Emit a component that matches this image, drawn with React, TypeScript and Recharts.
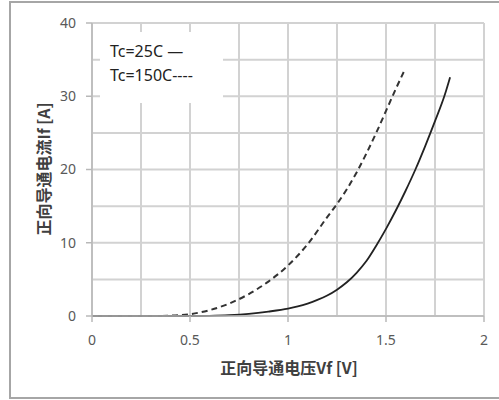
import React from 'react';
import { LineChart, Line, XAxis, YAxis, CartesianGrid } from 'recharts';

// Tc = 25C (solid)
const vf25 = [0, 0.5, 0.6, 0.7, 0.8, 0.9, 1.0, 1.05, 1.1, 1.15, 1.2, 1.25, 1.3, 1.35, 1.4, 1.45, 1.5, 1.55, 1.6, 1.65, 1.7, 1.75, 1.8, 1.827];
const if25 = [0, 0, 0.03, 0.12, 0.3, 0.6, 1.0, 1.3, 1.7, 2.2, 2.8, 3.6, 4.6, 5.9, 7.5, 9.6, 11.9, 14.4, 17.1, 20.0, 23.2, 26.6, 30.2, 32.6];

// Tc = 150C (dashed)
const vf150 = [0, 0.3, 0.4, 0.5, 0.6, 0.7, 0.8, 0.9, 1.0, 1.1, 1.2, 1.25, 1.3, 1.35, 1.4, 1.45, 1.5, 1.55, 1.592];
const if150 = [0, 0, 0.05, 0.25, 0.8, 1.7, 3.0, 4.7, 6.9, 9.8, 13.5, 15.3, 17.3, 19.6, 22.2, 25.0, 28.0, 31.0, 33.4];

const xTicks = [0, 0.25, 0.5, 0.75, 1, 1.25, 1.5, 1.75, 2];
const xLabeled = [0, 0.5, 1, 1.5, 2];
const yTicks = [0, 5, 10, 15, 20, 25, 30, 35, 40];
const yLabeled = [0, 10, 20, 30, 40];

const legendLines = ['Tc=25C —', 'Tc=150C----'];
const xTitle = '正向导通电压Vf [V]';
const yTitle = '正向导通电流If [A]';

const data25 = vf25.map((v, i) => ({ vf: v, amps: if25[i] }));
const data150 = vf150.map((v, i) => ({ vf: v, amps: if150[i] }));

const TICK = 6;
const AXIS = '#b8b8b8';
const FONT = '"Noto Sans", sans-serif';
const CJK = '"Noto Sans CJK SC", sans-serif';

const XTick = (props: any) => {
  const { x, y, payload } = props;
  if (!xLabeled.includes(payload.value)) return null;
  return (
    <g>
      <line x1={x} x2={x} y1={y - 13} y2={y - 13 - TICK} stroke={AXIS} strokeWidth={1.5} />
      <text x={x} y={y} dy="0.71em" textAnchor="middle" fill="#595959" fontSize={14} fontFamily={FONT}>
        {payload.value}
      </text>
    </g>
  );
};

const YTick = (props: any) => {
  const { x, y, payload } = props;
  if (!yLabeled.includes(payload.value)) return null;
  return (
    <g>
      <line x1={x + 10} x2={x + 10 + TICK} y1={y} y2={y} stroke={AXIS} strokeWidth={1.5} />
      <text x={x} y={y} dy="0.355em" textAnchor="end" fill="#595959" fontSize={14} fontFamily={FONT}>
        {payload.value}
      </text>
    </g>
  );
};

export default function App() {
  return (
    <div style={{ position: 'absolute', left: 0, top: 0, width: 499, height: 400, overflow: 'hidden' }}>
      <div
        style={{
          position: 'absolute',
          left: 9,
          top: 1,
          width: 600,
          height: 394,
          border: '2px solid #a6a6a6',
        }}
      />
      <div style={{ position: 'absolute', left: 0, top: 0 }}>
        <LineChart width={499} height={400} data={data25} margin={{ top: 23, right: 15, bottom: 54, left: 32 }}>
          <CartesianGrid stroke="#d2d2d2" strokeWidth={2} />
          <XAxis
            type="number"
            dataKey="vf"
            domain={[0, 2]}
            ticks={xTicks}
            interval={0}
            height={30}
            tickLine={false}
            axisLine={{ stroke: AXIS, strokeWidth: 1.5 }}
            tick={<XTick />}
            tickMargin={13}
          />
          <YAxis
            type="number"
            domain={[0, 40]}
            ticks={yTicks}
            interval={0}
            width={60}
            tickLine={false}
            axisLine={{ stroke: AXIS, strokeWidth: 1.5 }}
            tick={<YTick />}
            tickMargin={10}
          />
          <Line
            dataKey="amps"
            type="monotone"
            stroke="#222"
            strokeWidth={1.8}
            dot={false}
            isAnimationActive={false}
          />
          <Line
            data={data150}
            dataKey="amps"
            type="monotone"
            stroke="#333"
            strokeWidth={2}
            strokeDasharray="6 4"
            dot={false}
            isAnimationActive={false}
          />
        </LineChart>
      </div>
      <div
        style={{
          position: 'absolute',
          left: 100,
          top: 32,
          width: 123,
          height: 71,
          background: '#fff',
          fontFamily: FONT,
          fontSize: 16,
          color: '#222',
        }}
      >
        {legendLines.map((t, i) => (
          <div key={t} style={{ position: 'absolute', left: 10, top: 9 + i * 24, whiteSpace: 'nowrap', lineHeight: '20px' }}>
            {t}
          </div>
        ))}
      </div>
      <div
        style={{
          position: 'absolute',
          left: 289,
          top: 367,
          transform: 'translate(-50%, -50%)',
          fontFamily: CJK,
          fontWeight: 'bold',
          fontSize: 16,
          color: '#404040',
          whiteSpace: 'nowrap',
        }}
      >
        {xTitle}
      </div>
      <div
        style={{
          position: 'absolute',
          left: 43,
          top: 169,
          transform: 'translate(-50%, -50%) rotate(-90deg)',
          fontFamily: CJK,
          fontWeight: 'bold',
          fontSize: 16,
          color: '#404040',
          whiteSpace: 'nowrap',
        }}
      >
        {yTitle}
      </div>
    </div>
  );
}
